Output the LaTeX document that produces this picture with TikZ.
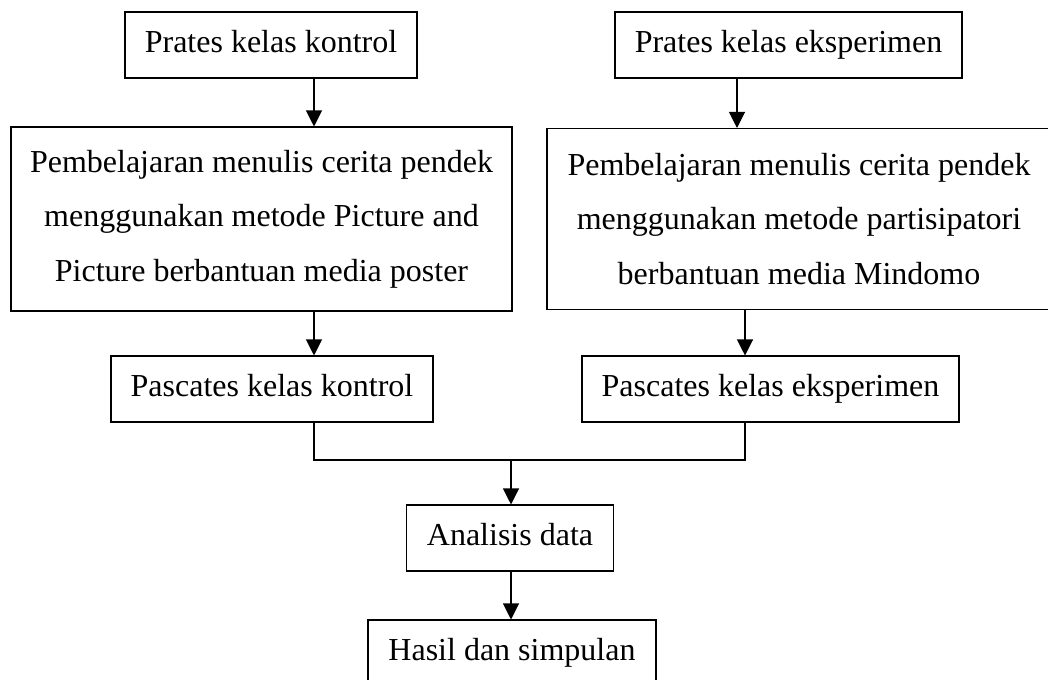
\documentclass[tikz,border=0pt]{standalone}
\usepackage{fontspec}
\setmainfont{Liberation Serif}
\usetikzlibrary{arrows.meta}

\begin{document}
\begin{tikzpicture}[x=0.75pt,y=-0.75pt]

	\tikzstyle{edge} = [draw,-,line width=0.8pt]
	\tikzstyle{arr} = [draw,-{Triangle[length=12pt,width=12pt]},line width=0.8pt]
	\useasboundingbox (0,0) rectangle (1048,679);

	\tikzset{box/.style = {shape=rectangle,draw,line width=0.8pt,inner sep=0pt,
		font=\fontsize{24}{41}\selectfont,align=center}}
	\tikzset{sbox/.style = {box,minimum height=49.5pt,text height=16.8pt,text depth=6.2pt}}

	% pretest
	\node[sbox,minimum width=219pt] (pk) at (271,45) {Prates kelas kontrol};
	\node[sbox,minimum width=260.25pt] (pe) at (788.5,45) {Prates kelas eksperimen};

	% pembelajaran
	\node[box,minimum width=375.75pt,minimum height=138pt] (bk) at (261.5,219)
		{Pembelajaran menulis cerita pendek\\menggunakan metode Picture and\\Picture berbantuan media poster};
	\node[box,minimum width=378pt,minimum height=135.75pt] (be) at (799,219)
		{Pembelajaran menulis cerita pendek\\menggunakan metode partisipatori\\berbantuan media Mindomo};

	% posttest
	\node[sbox,minimum width=241.5pt] (ck) at (272,389) {Pascates kelas kontrol};
	\node[sbox,minimum width=282.75pt] (ce) at (770.5,389) {Pascates kelas eksperimen};

	\node[sbox,minimum width=155.25pt] (ad) at (510,538) {Analisis data};
	\node[sbox,minimum width=216pt] (hs) at (512,653) {Hasil dan simpulan};

	\coordinate (xk) at (314,0);
	\coordinate (xe) at (737,0);
	\coordinate (xc) at (745,0);
	\coordinate (j) at (511,460);

	\draw[arr] (xk |- pk.south) to (xk |- bk.north);
	\draw[arr] (xe |- pe.south) to (xe |- be.north);
	\draw[arr] (xk |- bk.south) to (xk |- ck.north);
	\draw[arr] (xc |- be.south) to (xc |- ce.north);
	\draw[edge] (xk |- ck.south) |- (j) -| (xc |- ce.south);
	\draw[arr] (j) to (j |- ad.north);
	\draw[arr] (j |- ad.south) to (j |- hs.north);
\end{tikzpicture}
\end{document}
